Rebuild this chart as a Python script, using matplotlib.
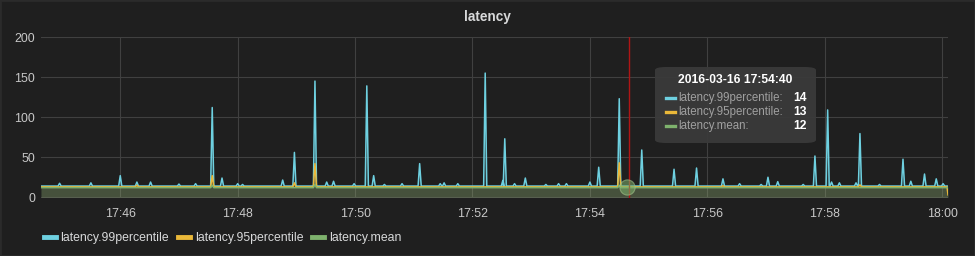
import matplotlib
matplotlib.use("Agg")
import matplotlib.pyplot as plt
import matplotlib.dates as mdates
from matplotlib.patches import FancyBboxPatch, Rectangle
from matplotlib.lines import Line2D
from datetime import datetime, timedelta

DAY = "2016-03-16 "

# time range of the query
range_start = "17:44:39"
range_end = "18:00:06"

# baseline levels of each series
base_p99 = 14
base_p95 = 13
base_mean = 12

# spikes of latency.99percentile (time, value)
p99_times = ["17:44:58", "17:45:30", "17:46:00", "17:46:17", "17:46:31", "17:47:00",
             "17:47:17", "17:47:34", "17:47:44", "17:48:00", "17:48:05", "17:48:46",
             "17:48:58", "17:49:19", "17:49:31", "17:49:38", "17:49:59", "17:50:12",
             "17:50:19", "17:50:30", "17:50:48", "17:51:06", "17:51:27", "17:51:31",
             "17:51:45", "17:52:13", "17:52:31", "17:52:33", "17:52:43", "17:52:54",
             "17:53:15", "17:53:28", "17:53:36", "17:54:00", "17:54:09", "17:54:30",
             "17:54:53", "17:55:26", "17:55:49", "17:56:16", "17:56:33", "17:56:55",
             "17:57:02", "17:57:12", "17:57:38", "17:57:50", "17:58:03", "17:58:07",
             "17:58:15", "17:58:32", "17:58:36", "17:58:56", "17:59:20", "17:59:28",
             "17:59:42", "17:59:54", "18:00:01"]
p99_values = [17.5, 18, 27, 19, 19, 16.5,
              17, 112, 24, 17, 16, 21.5,
              56, 145, 19, 20, 17, 139,
              27, 16, 17, 42, 17, 18,
              17, 155, 21, 73, 17, 24,
              16, 17, 17, 19, 37.5, 123,
              59, 35, 36.5, 23, 17, 16,
              25, 19.5, 16, 51.5, 109, 19,
              18, 18, 79.5, 16, 47.5, 20,
              29, 23, 17]

# spikes of latency.95percentile
p95_times = ["17:46:17", "17:47:34", "17:48:58", "17:49:19", "17:54:30", "17:56:16", "17:58:36"]
p95_values = [15, 27, 18, 42, 43, 14.5, 15.5]
p95_last = 3

# spikes of latency.mean
mean_times = ["17:47:34", "17:49:19", "17:54:30"]
mean_values = [15, 16, 15]

# hover tooltip
hover_time = "17:54:40"
hover_labels = ["latency.99percentile:", "latency.95percentile:", "latency.mean:"]
hover_values = [14, 13, 12]

names = ["latency.99percentile", "latency.95percentile", "latency.mean"]
colors = ["#6ED0E0", "#EAB839", "#7EB26D"]


def ts(s):
    return datetime.strptime(DAY + s, "%Y-%m-%d %H:%M:%S")


def make_series(base, times, values, last=None):
    half = timedelta(seconds=1.6)
    xs = [ts(range_start)]
    ys = [base]
    for t, v in zip(times, values):
        t = ts(t)
        xs += [t - half, t, t + half]
        ys += [base, v, base]
    end = ts(range_end)
    xs += [end - timedelta(seconds=1), end]
    ys += [base, base if last is None else last]
    return xs, ys


series = [make_series(base_p99, p99_times, p99_values),
          make_series(base_p95, p95_times, p95_values, p95_last),
          make_series(base_mean, mean_times, mean_values)]

BG = "#1f1f1f"
TXT = "#c8c8c8"

fig = plt.figure(figsize=(9.75, 2.56), dpi=100, facecolor=BG)
plt.rcParams["font.family"] = ["Liberation Sans", "DejaVu Sans"]

ax = fig.add_axes([41 / 975, 1 - 198 / 256, 907 / 975, 161 / 256])
ax.set_facecolor(BG)

for (xs, ys), c in zip(series, colors):
    ax.fill_between(xs, 0, ys, color=c, alpha=0.12, lw=0)
for (xs, ys), c in zip(series, colors):
    ax.plot(xs, ys, color=c, lw=1.1)

ax.set_xlim(ts(range_start), ts(range_end))
ax.set_ylim(-0.9, 200)
ax.set_yticks([0, 50, 100, 150, 200])
ax.xaxis.set_major_locator(mdates.MinuteLocator(byminute=range(0, 60, 2)))
ax.xaxis.set_major_formatter(mdates.DateFormatter("%H:%M"))
ax.grid(True, color="#404040", lw=0.8)
ax.set_axisbelow(True)
ax.tick_params(length=0, colors=TXT, labelsize=8.9)
ax.tick_params(axis="x", pad=7.5)
ax.tick_params(axis="y", pad=4.3)
for s in ax.spines.values():
    s.set_visible(False)

# hover line and marker
ax.axvline(ts(hover_time), color="#b01515", lw=1.0)
ax.plot([ts("17:54:38")], [base_mean + 0.5], "o", ms=11, color="#7EB26D", alpha=0.55,
        mec="#a8c890", mew=0.8)

fig.text(0.5, 1 - 17 / 256, "latency", ha="center", va="center", color="#d8d9da",
         fontsize=9.8, fontweight="bold")

# legend
handles = [Line2D([], [], color=c, lw=3.5) for c in colors]
fig.legend(handles, names, loc="center left", bbox_to_anchor=(44 / 975, 1 - 238 / 256),
           ncol=3, frameon=False, fontsize=8.8, handlelength=0.95, handletextpad=0.4,
           columnspacing=0.75, labelcolor="#d8d9da", borderaxespad=0, borderpad=0)

# tooltip box
tip = FancyBboxPatch((655 / 975, 1 - 143 / 256), 161 / 975, 76 / 256,
                     boxstyle="round,pad=0,rounding_size=0.012", transform=fig.transFigure,
                     facecolor="#3a3a3a", edgecolor="none", alpha=0.95)
fig.patches.append(tip)
fig.text(735 / 975, 1 - 80 / 256, DAY.strip() + " " + hover_time, ha="center", va="center",
         color="white", fontsize=8.7, fontweight="bold")
row_y = [97.7, 111.7, 126]
for lab, val, c, y in zip(hover_labels, hover_values, colors, row_y):
    fig.add_artist(Line2D([666 / 975, 675 / 975], [1 - y / 256] * 2, color=c, lw=2.4,
                          transform=fig.transFigure))
    fig.text(678 / 975, 1 - y / 256, lab, ha="left", va="center", color="#a0a0a0", fontsize=8.3)
    fig.text(807 / 975, 1 - y / 256, str(val), ha="right", va="center", color="white",
             fontsize=8.7, fontweight="bold")

# panel border
fig.patches.append(Rectangle((0, 0), 1, 1, transform=fig.transFigure, fill=False,
                             edgecolor="#2b2b2b", lw=2))

fig.savefig("out.png", dpi=100, facecolor=BG)
